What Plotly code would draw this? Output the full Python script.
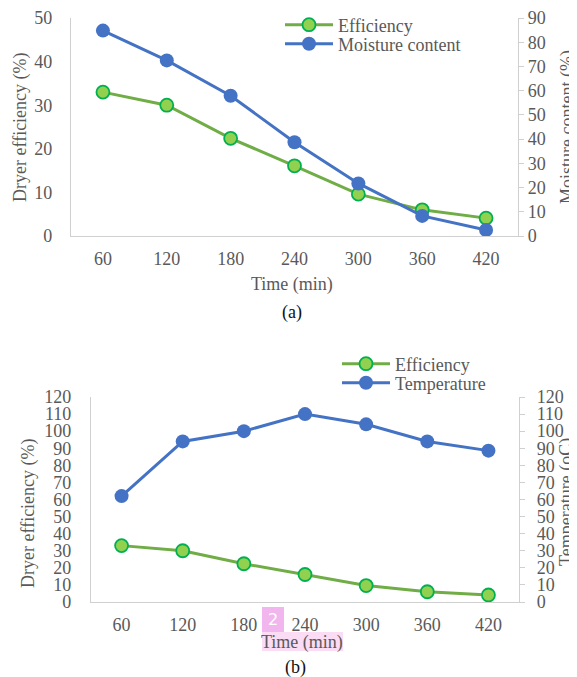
import plotly.graph_objects as go

# ---------------- data ----------------
time_labels = ["60", "120", "180", "240", "300", "360", "420"]
efficiency = [33.0, 30.0, 22.4, 16.1, 9.6, 6.0, 4.1]
moisture_content = [84.8, 72.5, 57.9, 38.7, 21.7, 8.3, 2.5]
temperature = [62, 94, 100, 110, 104, 94, 88.6]

left_ticks_a = [0, 10, 20, 30, 40, 50]
right_ticks_a = [0, 10, 20, 30, 40, 50, 60, 70, 80, 90]
ticks_b = [0, 10, 20, 30, 40, 50, 60, 70, 80, 90, 100, 110, 120]

# ---------------- style ----------------
OFF = 8                      # default page body margin
W, H = 577 - OFF, 677 - OFF  # figure fills the rest of the window
FONT = "Liberation Serif"
GRAY = "#595959"
AXIS = "#D0D0D0"
BLUE = "#4472C4"
GREEN_LINE = "#70AD47"
GREEN_FILL = "#92D050"
GREEN_EDGE = "#00B050"
FS = 18
ITEMW = 48


def px(x):
    return (x - OFF) / W


def py(y):
    return 1 - (y - OFF) / H


eff_style = dict(mode="lines+markers",
                 line=dict(color=GREEN_LINE, width=3),
                 marker=dict(size=13, color=GREEN_FILL,
                             line=dict(color=GREEN_EDGE, width=1.8)))
blue_style = dict(mode="lines+markers",
                  line=dict(color=BLUE, width=3),
                  marker=dict(size=14, color=BLUE, line=dict(width=0)))

fig = go.Figure()

# (a)
fig.add_trace(go.Scatter(x=time_labels, y=efficiency, name="Efficiency",
                         xaxis="x", yaxis="y", legend="legend", **eff_style))
fig.add_trace(go.Scatter(x=time_labels, y=moisture_content, name="Moisture content",
                         xaxis="x", yaxis="y2", legend="legend2", **blue_style))
# (b)
fig.add_trace(go.Scatter(x=time_labels, y=efficiency, name="Efficiency",
                         xaxis="x2", yaxis="y3", legend="legend3", **eff_style))
fig.add_trace(go.Scatter(x=time_labels, y=temperature, name="Temperature",
                         xaxis="x2", yaxis="y4", legend="legend4", **blue_style))

tickfont = dict(family=FONT, size=FS, color=GRAY)

xcommon = dict(type="category", range=[-0.5, 6.5], showline=True, linecolor=AXIS,
               linewidth=1.3, ticks="", tickfont=tickfont, showgrid=False,
               zeroline=False, ticklabelstandoff=6, fixedrange=True)
yleft = dict(showline=True, linecolor=AXIS, linewidth=1.3, ticks="",
             tickfont=tickfont, showgrid=False, zeroline=False, fixedrange=True)
yright = dict(showline=True, linecolor=AXIS, linewidth=1.3, ticks="outside",
              ticklen=5, tickcolor=AXIS, tickfont=tickfont, showgrid=False,
              zeroline=False, side="right", fixedrange=True)

dom_a_x = [px(71), px(518)]
dom_a_y = [py(236), py(18)]
dom_b_x = [px(91), px(519)]
dom_b_y = [py(602), py(397)]


def legend_at(x_text, y_center):
    return dict(x=px(x_text - ITEMW - 10), y=py(y_center), xanchor="left", yanchor="middle",
                bgcolor="rgba(0,0,0,0)", font=dict(family=FONT, size=FS, color=GRAY),
                itemwidth=ITEMW, itemclick=False, itemdoubleclick=False)


fig.update_layout(
    width=W, height=H,
    margin=dict(l=0, r=0, t=0, b=0, autoexpand=False),
    paper_bgcolor="white", plot_bgcolor="white",
    font=dict(family=FONT, size=FS, color=GRAY),
    xaxis=dict(domain=dom_a_x, anchor="y", **xcommon),
    yaxis=dict(domain=dom_a_y, anchor="x", range=[0, 50], tickvals=left_ticks_a,
               ticklabelstandoff=14, **yleft),
    yaxis2=dict(overlaying="y", anchor="x", range=[0, 90], tickvals=right_ticks_a,
                ticklabelstandoff=0, **yright),
    xaxis2=dict(domain=dom_b_x, anchor="y3", **xcommon),
    yaxis3=dict(domain=dom_b_y, anchor="x2", range=[0, 120], tickvals=ticks_b,
                ticklabelstandoff=15, **yleft),
    yaxis4=dict(overlaying="y3", anchor="x2", range=[0, 120], tickvals=ticks_b,
                ticklabelstandoff=8, **yright),
    legend=legend_at(338, 25),
    legend2=legend_at(338, 44),
    legend3=legend_at(395, 364),
    legend4=legend_at(395, 383),
    showlegend=True,
)

# pink highlight artifacts (drawn behind text)
fig.add_shape(type="rect", xref="paper", yref="paper",
              x0=px(262), x1=px(343), y0=py(651), y1=py(632),
              fillcolor="#FADCF5", line=dict(width=0), layer="below")
fig.add_shape(type="rect", xref="paper", yref="paper",
              x0=px(262), x1=px(284), y0=py(632), y1=py(607),
              fillcolor="#F2B6EE", line=dict(width=0), layer="below")

annotations = [
    dict(text="Time (min)", x=px(292), y=py(285)),
    dict(text="(a)", x=px(292), y=py(312), font=dict(family=FONT, size=FS, color="#111111")),
    dict(text="Dryer efficiency (%)", x=px(20), y=py(127), textangle=-90),
    dict(text="Moisture content (%)", x=px(567), y=py(127), textangle=-90),
    dict(text="Time (min)", x=px(302), y=py(642)),
    dict(text="(b)", x=px(295), y=py(667), font=dict(family=FONT, size=FS, color="#111111")),
    dict(text="Dryer efficiency (%)", x=px(28), y=py(513), textangle=-90),
    dict(text="Temperature (oC)", x=px(567), y=py(502), textangle=-90),
    dict(text="2", x=px(273), y=py(619), font=dict(family="DejaVu Sans", size=16, color="white")),
]
for a in annotations:
    a.setdefault("font", dict(family=FONT, size=FS, color=GRAY))
    fig.add_annotation(xref="paper", yref="paper", showarrow=False,
                       xanchor="center", yanchor="middle", **a)

fig.write_html("out.html")
